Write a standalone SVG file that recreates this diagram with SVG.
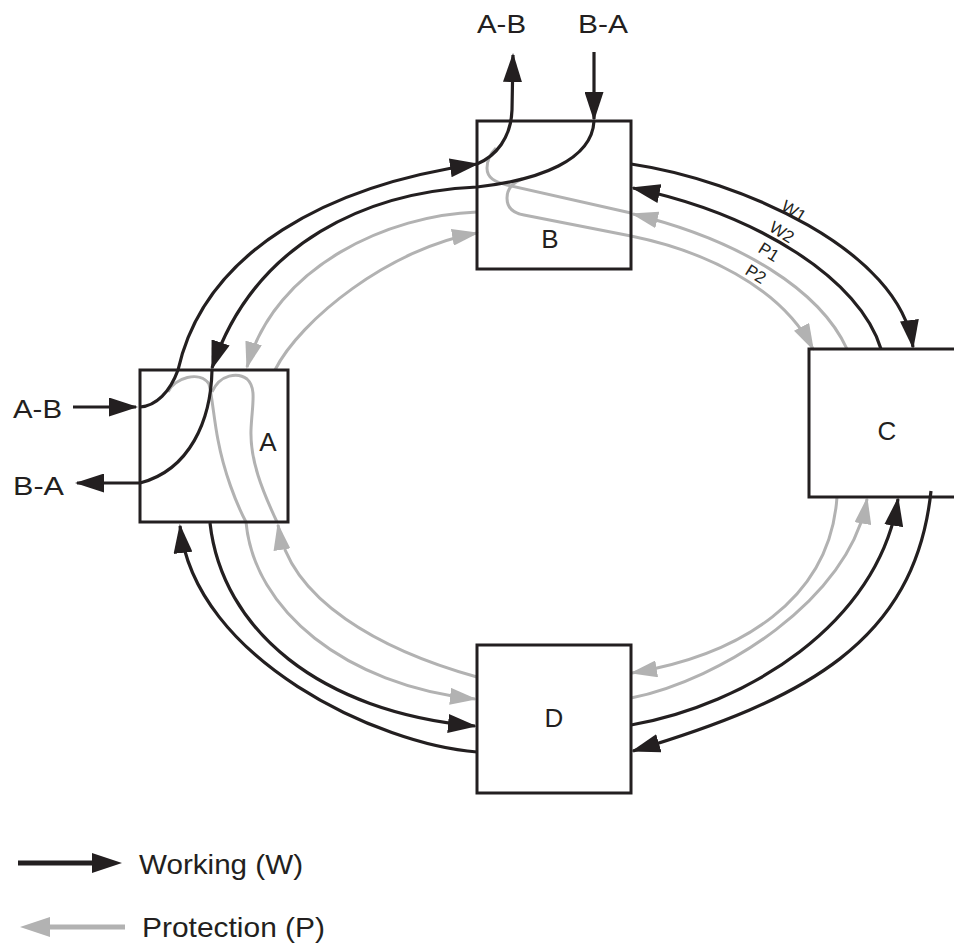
<svg xmlns="http://www.w3.org/2000/svg" width="954" height="946" viewBox="0 0 954 946">
<defs>
<style>
.w{fill:none;stroke:#231f20;stroke-width:3.2}
.p{fill:none;stroke:#b2b2b2;stroke-width:3}
.box{fill:none;stroke:#231f20;stroke-width:3}
.t{font-family:"Liberation Sans",Arial,sans-serif;fill:#231f20}
.lbl{font-size:26px}
.sm{font-size:17px}
.lg{font-size:28px}
</style>
<marker id="ab" viewBox="0 0 29 19" refX="27" refY="9.5" markerWidth="29" markerHeight="19" markerUnits="userSpaceOnUse" orient="auto"><path d="M0,0 L29,9.5 L0,19 z" fill="#231f20"/></marker>
<marker id="ag" viewBox="0 0 27 17" refX="25" refY="8.5" markerWidth="27" markerHeight="17" markerUnits="userSpaceOnUse" orient="auto"><path d="M0,0 L27,8.5 L0,17 z" fill="#b2b2b2"/></marker>
</defs>
<rect width="954" height="946" fill="#fff"/>
<g id="connectors">
<path class="p" d="M847,349 C820,290 740,240 633,214" marker-end="url(#ag)"/>
<path class="p" d="M631,213 L507,185 C495,182 487,178 487,168 C487,160 490,154 496,148"/>
<path class="p" d="M522,179 C512,183 507,190 507,198 C507,207 512,213 524,215 L631,236 C700,250 780,285 813,349" marker-end="url(#ag)"/>
<path class="p" d="M837,497 C830,600 740,655 632,673" marker-end="url(#ag)"/>
<path class="p" d="M631,698 C720,680 850,600 867,499" marker-end="url(#ag)"/>
<path class="p" d="M168,392 C174,378 200,370 209,384 C212,395 214,420 218,440 C224,472 236,503 246,522 C254,610 345,685 475,699" marker-end="url(#ag)"/>
<path class="p" d="M477,677 C380,650 290,600 278,525" marker-end="url(#ag)"/>
<path class="p" d="M277,522 C262,490 250,460 251,430 C252,405 257,388 247,379 C238,372 220,374 212,392"/>
<path class="p" d="M477,212 C390,215 275,265 247,367" marker-end="url(#ag)"/>
<path class="p" d="M275,370 C300,320 390,248 477,233" marker-end="url(#ag)"/>
<path class="w" d="M73,407 L136,407" marker-end="url(#ab)"/>
<path class="w" d="M140,407 C156,406 170,392 178,370 C205,250 330,185 477,164" marker-end="url(#ab)"/>
<path class="w" d="M477,164 C496,156 511,138 512,110 L513,55" marker-end="url(#ab)"/>
<path class="w" d="M594,52 L594,119" marker-end="url(#ab)"/>
<path class="w" d="M594,121 C592,160 540,180 477,187 C370,192 255,240 212,368" marker-end="url(#ab)"/>
<path class="w" d="M212,370 C211,420 190,470 140,483"/>
<path class="w" d="M140,483 L77,483" marker-end="url(#ab)"/>
<path class="w" d="M631,164 C740,180 900,250 913,347" marker-end="url(#ab)"/>
<path class="w" d="M881,349 C860,280 760,215 633,188" marker-end="url(#ab)"/>
<path class="w" d="M931,491 C915,643 803,700 633,751" marker-end="url(#ab)"/>
<path class="w" d="M631,725 C745,705 878,625 898,499" marker-end="url(#ab)"/>
<path class="w" d="M477,752 C380,745 195,660 180,526" marker-end="url(#ab)"/>
<path class="w" d="M210,523 C222,630 320,712 475,726" marker-end="url(#ab)"/>
</g>
<g id="node-B">
<rect class="box" x="477" y="121" width="154" height="148"/>
<text class="t lbl" x="550" y="248" text-anchor="middle">B</text>
</g>
<g id="node-A">
<rect class="box" x="140" y="370" width="148" height="152"/>
<text class="t lbl" x="268" y="451" text-anchor="middle">A</text>
</g>
<g id="node-C">
<rect class="box" x="809" y="349" width="170" height="148"/>
<text class="t lbl" x="887" y="440" text-anchor="middle">C</text>
</g>
<g id="node-D">
<rect class="box" x="477" y="645" width="154" height="148"/>
<text class="t lbl" x="554" y="727" text-anchor="middle">D</text>
</g>
<g id="labels">
<text class="t lbl" x="477" y="33" textLength="49" lengthAdjust="spacingAndGlyphs">A-B</text>
<text class="t lbl" x="578" y="33" textLength="50" lengthAdjust="spacingAndGlyphs">B-A</text>
<text class="t lbl" x="13" y="418" textLength="49" lengthAdjust="spacingAndGlyphs">A-B</text>
<text class="t lbl" x="13" y="495" textLength="51" lengthAdjust="spacingAndGlyphs">B-A</text>
<text class="t sm" transform="translate(794,211) rotate(32)" y="6" text-anchor="middle">W1</text>
<text class="t sm" transform="translate(782,232) rotate(32)" y="6" text-anchor="middle">W2</text>
<text class="t sm" transform="translate(769,252) rotate(32)" y="6" text-anchor="middle">P1</text>
<text class="t sm" transform="translate(756,274) rotate(32)" y="6" text-anchor="middle">P2</text>
</g>
<g id="legend">
<path d="M18,863 L94,863" stroke="#231f20" stroke-width="5" fill="none"/>
<polygon points="92,853 122,863 92,873" fill="#231f20"/>
<text class="t lg" x="139" y="874" textLength="164" lengthAdjust="spacingAndGlyphs">Working (W)</text>
<path d="M125,927 L48,927" stroke="#b2b2b2" stroke-width="5" fill="none"/>
<polygon points="50,917 20,927 50,937" fill="#b2b2b2"/>
<text class="t lg" x="142" y="937" textLength="183" lengthAdjust="spacingAndGlyphs">Protection (P)</text>
</g>
</svg>
